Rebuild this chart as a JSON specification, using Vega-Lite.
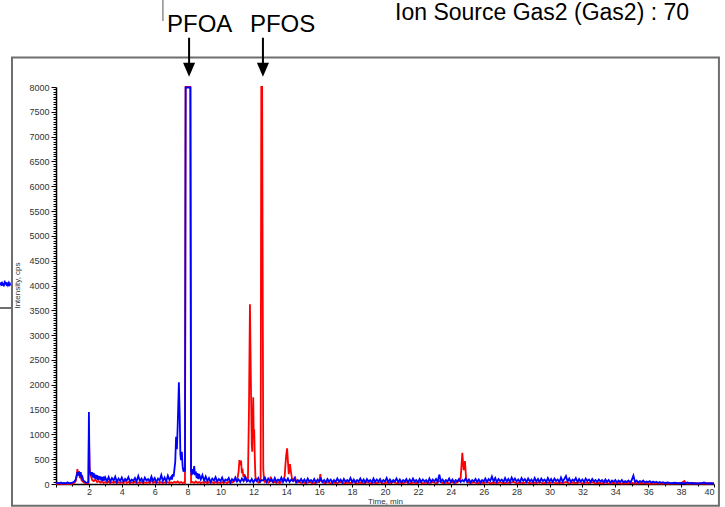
{
  "$schema": "https://vega.github.io/schema/vega-lite/v6.json",
  "width": 658,
  "height": 397,
  "autosize": {"type": "none"},
  "padding": {"left": 56, "top": 87, "right": 11, "bottom": 23},
  "background": "white",
  "data": {"values": [{}]},
  "config": {
    "view": {"stroke": null},
    "font": "Liberation Sans",
    "axis": {
      "domainColor": "#000000",
      "domainWidth": 1.5,
      "tickColor": "#000000",
      "labelColor": "#333333",
      "labelFontSize": 9,
      "labelFont": "Liberation Sans",
      "titleFont": "Liberation Sans",
      "titleFontWeight": "normal",
      "titleColor": "#333333",
      "titleFontSize": 8,
      "grid": false,
      "labelOverlap": false
    }
  },
  "datasets": {
    "pfoa": [
      {"t":0,"i":15},{"t":0.1,"i":25},{"t":0.2,"i":10},{"t":0.3,"i":30},{"t":0.4,"i":15},{"t":0.5,"i":20},{"t":0.6,"i":10},{"t":0.7,"i":35},{"t":0.8,"i":15},{"t":0.9,"i":20},
      {"t":1.0,"i":30},{"t":1.1,"i":45},{"t":1.2,"i":90},{"t":1.25,"i":160},{"t":1.3,"i":240},{"t":1.35,"i":170},{"t":1.4,"i":250},{"t":1.45,"i":190},{"t":1.5,"i":240},{"t":1.55,"i":130},
      {"t":1.6,"i":150},{"t":1.65,"i":80},{"t":1.7,"i":60},{"t":1.8,"i":35},{"t":1.9,"i":25},{"t":1.97,"i":40},{"t":2.0,"i":1450},{"t":2.04,"i":250},{"t":2.1,"i":230},{"t":2.15,"i":170},
      {"t":2.2,"i":240},{"t":2.25,"i":130},{"t":2.3,"i":220},{"t":2.35,"i":110},{"t":2.4,"i":190},{"t":2.45,"i":100},{"t":2.5,"i":180},{"t":2.55,"i":80},{"t":2.6,"i":160},{"t":2.65,"i":90},
      {"t":2.7,"i":150},{"t":2.75,"i":70},{"t":2.8,"i":140},{"t":2.85,"i":60},{"t":2.9,"i":150},{"t":2.95,"i":70},{"t":3.0,"i":130},
      {"t":3.1,"i":60},{"t":3.2,"i":140},{"t":3.3,"i":50},{"t":3.4,"i":120},{"t":3.5,"i":70},{"t":3.6,"i":150},{"t":3.7,"i":40},{"t":3.8,"i":110},{"t":3.9,"i":60},
      {"t":4.0,"i":130},{"t":4.1,"i":50},{"t":4.2,"i":100},{"t":4.3,"i":70},{"t":4.4,"i":140},{"t":4.5,"i":45},{"t":4.6,"i":90},{"t":4.7,"i":60},{"t":4.8,"i":120},{"t":4.9,"i":50},
      {"t":5.0,"i":160},{"t":5.1,"i":60},{"t":5.2,"i":110},{"t":5.3,"i":40},{"t":5.4,"i":130},{"t":5.5,"i":70},{"t":5.6,"i":100},{"t":5.7,"i":50},{"t":5.8,"i":150},{"t":5.9,"i":60},
      {"t":6.0,"i":120},{"t":6.1,"i":40},{"t":6.2,"i":110},{"t":6.3,"i":70},{"t":6.4,"i":180},{"t":6.5,"i":60},{"t":6.6,"i":130},{"t":6.7,"i":50},{"t":6.8,"i":170},{"t":6.9,"i":80},
      {"t":7.0,"i":140},{"t":7.05,"i":90},{"t":7.1,"i":200},{"t":7.15,"i":150},{"t":7.2,"i":300},{"t":7.25,"i":450},{"t":7.3,"i":950},{"t":7.35,"i":700},{"t":7.4,"i":1200},{"t":7.47,"i":2050},
      {"t":7.52,"i":1400},{"t":7.56,"i":600},{"t":7.6,"i":480},{"t":7.65,"i":650},{"t":7.7,"i":350},{"t":7.75,"i":250},{"t":7.8,"i":300},{"t":7.84,"i":250},{"t":7.88,"i":7990},{"t":8.17,"i":7990},
      {"t":8.21,"i":250},{"t":8.25,"i":180},{"t":8.3,"i":300},{"t":8.35,"i":200},{"t":8.4,"i":360},{"t":8.45,"i":180},{"t":8.5,"i":250},{"t":8.55,"i":120},{"t":8.6,"i":220},{"t":8.65,"i":100},
      {"t":8.7,"i":200},{"t":8.8,"i":90},{"t":8.9,"i":180},
      {"t":9.0,"i":70},{"t":9.1,"i":150},{"t":9.2,"i":60},{"t":9.3,"i":120},{"t":9.4,"i":40},{"t":9.5,"i":110},{"t":9.6,"i":70},{"t":9.7,"i":140},{"t":9.8,"i":50},{"t":9.9,"i":100},
      {"t":10.0,"i":60},{"t":10.1,"i":130},{"t":10.2,"i":40},{"t":10.3,"i":90},{"t":10.4,"i":70},{"t":10.5,"i":120},{"t":10.6,"i":30},{"t":10.7,"i":100},{"t":10.8,"i":60},{"t":10.9,"i":130},
      {"t":11.0,"i":50},{"t":11.1,"i":90},{"t":11.2,"i":40},{"t":11.3,"i":110},{"t":11.4,"i":60},{"t":11.5,"i":140},{"t":11.6,"i":50},{"t":11.7,"i":80},{"t":11.8,"i":40},{"t":11.9,"i":100},
      {"t":12.0,"i":30},{"t":12.1,"i":90},{"t":12.2,"i":60},{"t":12.3,"i":120},{"t":12.4,"i":40},{"t":12.5,"i":80},{"t":12.6,"i":70},{"t":12.7,"i":130},{"t":12.8,"i":40},{"t":12.9,"i":110},
      {"t":13.0,"i":60},{"t":13.1,"i":100},{"t":13.2,"i":40},{"t":13.3,"i":120},{"t":13.4,"i":50},{"t":13.5,"i":90},{"t":13.6,"i":60},{"t":13.7,"i":130},{"t":13.8,"i":40},{"t":13.9,"i":100},
      {"t":14.0,"i":50},{"t":14.1,"i":110},{"t":14.2,"i":40},{"t":14.3,"i":90},{"t":14.4,"i":60},{"t":14.5,"i":120},{"t":14.6,"i":30},{"t":14.7,"i":80},{"t":14.8,"i":50},{"t":14.9,"i":100},
      {"t":15.0,"i":40},{"t":15.1,"i":90},{"t":15.2,"i":30},{"t":15.3,"i":110},{"t":15.4,"i":50},{"t":15.5,"i":80},{"t":15.6,"i":40},{"t":15.7,"i":100},{"t":15.8,"i":30},{"t":15.9,"i":90},
      {"t":16.0,"i":50},{"t":16.1,"i":110},{"t":16.2,"i":40},{"t":16.3,"i":80},{"t":16.4,"i":30},{"t":16.5,"i":100},{"t":16.6,"i":50},{"t":16.7,"i":90},{"t":16.8,"i":30},{"t":16.9,"i":80},
      {"t":17.0,"i":40},{"t":17.1,"i":110},{"t":17.2,"i":50},{"t":17.3,"i":90},{"t":17.4,"i":30},{"t":17.5,"i":100},{"t":17.6,"i":40},{"t":17.7,"i":80},{"t":17.8,"i":50},{"t":17.9,"i":120},
      {"t":18.0,"i":40},{"t":18.1,"i":90},{"t":18.2,"i":30},{"t":18.3,"i":80},{"t":18.4,"i":50},{"t":18.5,"i":110},{"t":18.6,"i":40},{"t":18.7,"i":90},{"t":18.8,"i":30},{"t":18.9,"i":100},
      {"t":19.0,"i":50},{"t":19.1,"i":80},{"t":19.2,"i":30},{"t":19.3,"i":110},{"t":19.4,"i":40},{"t":19.5,"i":90},{"t":19.6,"i":50},{"t":19.7,"i":100},{"t":19.8,"i":30},{"t":19.9,"i":80},
      {"t":20.0,"i":50},{"t":20.1,"i":120},{"t":20.2,"i":40},{"t":20.3,"i":90},{"t":20.4,"i":30},{"t":20.5,"i":80},{"t":20.6,"i":50},{"t":20.7,"i":110},{"t":20.8,"i":40},{"t":20.9,"i":90},
      {"t":21.0,"i":30},{"t":21.1,"i":80},{"t":21.2,"i":50},{"t":21.3,"i":100},{"t":21.4,"i":30},{"t":21.5,"i":90},{"t":21.6,"i":40},{"t":21.7,"i":110},{"t":21.8,"i":50},{"t":21.9,"i":80},
      {"t":22.0,"i":30},{"t":22.1,"i":100},{"t":22.2,"i":40},{"t":22.3,"i":90},{"t":22.4,"i":50},{"t":22.5,"i":80},{"t":22.6,"i":30},{"t":22.7,"i":110},{"t":22.8,"i":40},{"t":22.9,"i":90},
      {"t":23.0,"i":50},{"t":23.1,"i":100},{"t":23.2,"i":40},{"t":23.3,"i":190},{"t":23.4,"i":50},{"t":23.5,"i":90},{"t":23.6,"i":30},{"t":23.7,"i":80},{"t":23.8,"i":50},{"t":23.9,"i":110},
      {"t":24.0,"i":40},{"t":24.1,"i":90},{"t":24.2,"i":30},{"t":24.3,"i":80},{"t":24.4,"i":50},{"t":24.5,"i":100},{"t":24.6,"i":40},{"t":24.7,"i":80},{"t":24.8,"i":50},{"t":24.9,"i":110},
      {"t":25.0,"i":40},{"t":25.1,"i":90},{"t":25.2,"i":30},{"t":25.3,"i":80},{"t":25.4,"i":50},{"t":25.5,"i":100},{"t":25.6,"i":40},{"t":25.7,"i":90},{"t":25.8,"i":30},{"t":25.9,"i":80},
      {"t":26.0,"i":50},{"t":26.1,"i":110},{"t":26.2,"i":40},{"t":26.3,"i":100},{"t":26.4,"i":60},{"t":26.5,"i":150},{"t":26.6,"i":50},{"t":26.7,"i":120},{"t":26.8,"i":40},{"t":26.9,"i":100},
      {"t":27.0,"i":60},{"t":27.1,"i":90},{"t":27.2,"i":40},{"t":27.3,"i":120},{"t":27.4,"i":50},{"t":27.5,"i":100},{"t":27.6,"i":40},{"t":27.7,"i":130},{"t":27.8,"i":60},{"t":27.9,"i":110},
      {"t":28.0,"i":50},{"t":28.1,"i":90},{"t":28.2,"i":40},{"t":28.3,"i":120},{"t":28.4,"i":60},{"t":28.5,"i":100},{"t":28.6,"i":40},{"t":28.7,"i":110},{"t":28.8,"i":50},{"t":28.9,"i":90},
      {"t":29.0,"i":40},{"t":29.1,"i":120},{"t":29.2,"i":50},{"t":29.3,"i":100},{"t":29.4,"i":40},{"t":29.5,"i":110},{"t":29.6,"i":60},{"t":29.7,"i":90},{"t":29.8,"i":40},{"t":29.9,"i":120},
      {"t":30.0,"i":50},{"t":30.1,"i":100},{"t":30.2,"i":40},{"t":30.3,"i":110},{"t":30.4,"i":60},{"t":30.5,"i":90},{"t":30.6,"i":40},{"t":30.7,"i":130},{"t":30.8,"i":50},{"t":30.9,"i":100},
      {"t":31.0,"i":160},{"t":31.1,"i":50},{"t":31.2,"i":110},{"t":31.3,"i":40},{"t":31.4,"i":90},{"t":31.5,"i":60},{"t":31.6,"i":120},{"t":31.7,"i":40},{"t":31.8,"i":100},{"t":31.9,"i":50},
      {"t":32.0,"i":90},{"t":32.1,"i":40},{"t":32.2,"i":110},{"t":32.3,"i":60},{"t":32.4,"i":90},{"t":32.5,"i":40},{"t":32.6,"i":100},{"t":32.7,"i":50},{"t":32.8,"i":80},{"t":32.9,"i":40},
      {"t":33.0,"i":90},{"t":33.1,"i":50},{"t":33.2,"i":80},{"t":33.3,"i":30},{"t":33.4,"i":90},{"t":33.5,"i":40},{"t":33.6,"i":80},{"t":33.7,"i":30},{"t":33.8,"i":70},{"t":33.9,"i":40},
      {"t":34.0,"i":80},{"t":34.1,"i":30},{"t":34.2,"i":70},{"t":34.3,"i":40},{"t":34.4,"i":80},{"t":34.5,"i":30},{"t":34.6,"i":60},{"t":34.7,"i":40},{"t":34.8,"i":70},{"t":34.9,"i":30},
      {"t":35.0,"i":80},{"t":35.1,"i":170},{"t":35.2,"i":40},{"t":35.3,"i":70},{"t":35.4,"i":30},{"t":35.5,"i":60},{"t":35.6,"i":40},{"t":35.7,"i":70},{"t":35.8,"i":30},{"t":35.9,"i":50},
      {"t":36.0,"i":40},{"t":36.1,"i":60},{"t":36.2,"i":25},{"t":36.3,"i":50},{"t":36.4,"i":30},{"t":36.5,"i":45},{"t":36.6,"i":20},{"t":36.7,"i":40},{"t":36.8,"i":25},{"t":36.9,"i":35},
      {"t":37.0,"i":20},{"t":37.2,"i":30},{"t":37.4,"i":15},{"t":37.6,"i":25},{"t":37.8,"i":15},{"t":38.0,"i":20},{"t":38.2,"i":15},{"t":38.4,"i":30},{"t":38.5,"i":15},{"t":38.6,"i":20},
      {"t":38.8,"i":15},{"t":39.0,"i":10},{"t":39.2,"i":15},{"t":39.4,"i":30},{"t":39.5,"i":15},{"t":39.6,"i":10},{"t":39.8,"i":15},{"t":40.0,"i":10}
    ],
    "pfos": [
      {"t":0,"i":5},{"t":0.2,"i":10},{"t":0.4,"i":5},{"t":0.6,"i":10},{"t":0.8,"i":5},{"t":1.0,"i":10},{"t":1.1,"i":20},{"t":1.2,"i":60},{"t":1.25,"i":150},{"t":1.3,"i":300},
      {"t":1.35,"i":200},{"t":1.4,"i":250},{"t":1.45,"i":120},{"t":1.5,"i":180},{"t":1.55,"i":80},{"t":1.6,"i":60},{"t":1.7,"i":30},{"t":1.8,"i":20},{"t":1.9,"i":15},{"t":1.97,"i":20},
      {"t":2.0,"i":1000},{"t":2.04,"i":350},{"t":2.08,"i":200},{"t":2.15,"i":130},{"t":2.2,"i":80},{"t":2.3,"i":60},{"t":2.4,"i":90},{"t":2.5,"i":40},{"t":2.6,"i":60},{"t":2.7,"i":30},
      {"t":2.8,"i":50},{"t":2.9,"i":20},{"t":3.0,"i":40},{"t":3.1,"i":20},{"t":3.2,"i":50},{"t":3.3,"i":15},{"t":3.4,"i":40},{"t":3.5,"i":20},{"t":3.6,"i":45},{"t":3.7,"i":15},
      {"t":3.8,"i":35},{"t":3.9,"i":20},{"t":4.0,"i":40},{"t":4.1,"i":15},{"t":4.2,"i":90},{"t":4.3,"i":20},{"t":4.4,"i":40},{"t":4.5,"i":15},{"t":4.6,"i":35},{"t":4.7,"i":20},
      {"t":4.8,"i":45},{"t":4.9,"i":15},{"t":5.0,"i":30},{"t":5.1,"i":20},{"t":5.2,"i":40},{"t":5.3,"i":15},{"t":5.4,"i":35},{"t":5.5,"i":20},{"t":5.6,"i":40},{"t":5.7,"i":15},
      {"t":5.8,"i":90},{"t":5.9,"i":20},{"t":6.0,"i":40},{"t":6.1,"i":15},{"t":6.2,"i":35},{"t":6.3,"i":20},{"t":6.4,"i":40},{"t":6.5,"i":15},{"t":6.6,"i":30},{"t":6.7,"i":20},
      {"t":6.8,"i":40},{"t":6.9,"i":15},{"t":7.0,"i":35},{"t":7.1,"i":20},{"t":7.2,"i":45},{"t":7.3,"i":25},{"t":7.4,"i":50},{"t":7.5,"i":20},{"t":7.6,"i":40},{"t":7.7,"i":20},
      {"t":7.8,"i":35},{"t":7.84,"i":20},{"t":7.88,"i":8000},{"t":8.17,"i":8000},{"t":8.21,"i":30},{"t":8.3,"i":40},{"t":8.4,"i":20},{"t":8.5,"i":50},{"t":8.6,"i":20},{"t":8.7,"i":40},
      {"t":8.8,"i":15},{"t":8.9,"i":35},{"t":9.0,"i":20},{"t":9.1,"i":45},{"t":9.2,"i":15},{"t":9.3,"i":40},{"t":9.4,"i":20},{"t":9.5,"i":35},{"t":9.6,"i":15},{"t":9.7,"i":45},
      {"t":9.8,"i":20},{"t":9.9,"i":30},{"t":10.0,"i":15},{"t":10.1,"i":40},{"t":10.2,"i":20},{"t":10.3,"i":35},{"t":10.4,"i":15},{"t":10.5,"i":45},{"t":10.6,"i":20},{"t":10.7,"i":30},
      {"t":10.8,"i":50},{"t":10.9,"i":80},{"t":11.0,"i":60},{"t":11.05,"i":150},{"t":11.1,"i":250},{"t":11.15,"i":480},{"t":11.2,"i":380},{"t":11.25,"i":470},{"t":11.3,"i":220},{"t":11.35,"i":260},
      {"t":11.4,"i":140},{"t":11.45,"i":200},{"t":11.5,"i":90},{"t":11.55,"i":120},{"t":11.6,"i":70},{"t":11.67,"i":120},{"t":11.73,"i":1500},{"t":11.79,"i":3620},{"t":11.85,"i":2000},{"t":11.9,"i":800},
      {"t":11.93,"i":650},{"t":11.96,"i":1100},{"t":11.99,"i":1750},{"t":12.02,"i":950},{"t":12.05,"i":1100},{"t":12.08,"i":600},{"t":12.12,"i":150},{"t":12.2,"i":60},{"t":12.3,"i":30},{"t":12.4,"i":40},
      {"t":12.44,"i":120},{"t":12.48,"i":8000},{"t":12.53,"i":8000},{"t":12.6,"i":300},{"t":12.65,"i":80},{"t":12.7,"i":40},{"t":12.8,"i":60},{"t":12.9,"i":25},{"t":13.0,"i":50},{"t":13.05,"i":150},
      {"t":13.1,"i":60},{"t":13.2,"i":30},{"t":13.3,"i":45},{"t":13.4,"i":20},{"t":13.5,"i":40},{"t":13.6,"i":15},{"t":13.7,"i":50},{"t":13.8,"i":80},{"t":13.9,"i":150},{"t":13.95,"i":400},
      {"t":14.0,"i":600},{"t":14.05,"i":720},{"t":14.1,"i":450},{"t":14.15,"i":200},{"t":14.22,"i":400},{"t":14.28,"i":250},{"t":14.35,"i":100},{"t":14.45,"i":60},{"t":14.55,"i":120},{"t":14.6,"i":50},
      {"t":14.7,"i":30},{"t":14.8,"i":45},{"t":14.9,"i":20},{"t":15.0,"i":35},{"t":15.2,"i":20},{"t":15.4,"i":40},{"t":15.6,"i":15},{"t":15.8,"i":30},{"t":16.0,"i":40},{"t":16.07,"i":200},
      {"t":16.12,"i":60},{"t":16.3,"i":20},{"t":16.5,"i":35},{"t":16.7,"i":15},{"t":16.9,"i":30},{"t":17.1,"i":20},{"t":17.3,"i":40},{"t":17.5,"i":15},{"t":17.7,"i":30},{"t":17.9,"i":20},
      {"t":18.1,"i":35},{"t":18.3,"i":15},{"t":18.5,"i":30},{"t":18.7,"i":20},{"t":18.9,"i":35},{"t":19.1,"i":15},{"t":19.3,"i":30},{"t":19.5,"i":20},{"t":19.7,"i":35},{"t":19.9,"i":15},
      {"t":20.1,"i":30},{"t":20.3,"i":20},{"t":20.5,"i":40},{"t":20.7,"i":15},{"t":20.9,"i":30},{"t":21.1,"i":20},{"t":21.3,"i":35},{"t":21.5,"i":15},{"t":21.7,"i":30},{"t":21.9,"i":20},
      {"t":22.1,"i":35},{"t":22.3,"i":15},{"t":22.5,"i":30},{"t":22.7,"i":20},{"t":22.9,"i":40},{"t":23.1,"i":15},{"t":23.3,"i":60},{"t":23.5,"i":20},{"t":23.7,"i":30},{"t":23.9,"i":15},
      {"t":24.1,"i":35},{"t":24.3,"i":20},{"t":24.5,"i":60},{"t":24.6,"i":120},{"t":24.7,"i":630},{"t":24.78,"i":280},{"t":24.86,"i":460},{"t":24.93,"i":120},{"t":25.0,"i":40},{"t":25.2,"i":20},
      {"t":25.4,"i":35},{"t":25.6,"i":15},{"t":25.8,"i":30},{"t":26.0,"i":20},{"t":26.2,"i":40},{"t":26.4,"i":15},{"t":26.6,"i":30},{"t":26.8,"i":20},{"t":27.0,"i":35},{"t":27.2,"i":15},
      {"t":27.4,"i":30},{"t":27.6,"i":20},{"t":27.8,"i":45},{"t":28.0,"i":15},{"t":28.2,"i":30},{"t":28.4,"i":20},{"t":28.6,"i":35},{"t":28.8,"i":15},{"t":29.0,"i":30},{"t":29.2,"i":20},
      {"t":29.4,"i":40},{"t":29.6,"i":15},{"t":29.8,"i":30},{"t":30.0,"i":20},{"t":30.2,"i":35},{"t":30.4,"i":15},{"t":30.6,"i":30},{"t":30.8,"i":20},{"t":31.0,"i":40},{"t":31.2,"i":15},
      {"t":31.4,"i":30},{"t":31.6,"i":20},{"t":31.8,"i":35},{"t":32.0,"i":15},{"t":32.2,"i":30},{"t":32.4,"i":20},{"t":32.6,"i":35},{"t":32.8,"i":15},{"t":33.0,"i":25},{"t":33.2,"i":15},
      {"t":33.4,"i":30},{"t":33.6,"i":10},{"t":33.8,"i":25},{"t":34.0,"i":15},{"t":34.2,"i":25},{"t":34.4,"i":10},{"t":34.6,"i":20},{"t":34.8,"i":15},{"t":35.0,"i":25},{"t":35.2,"i":10},
      {"t":35.4,"i":20},{"t":35.6,"i":15},{"t":35.8,"i":20},{"t":36.0,"i":10},{"t":36.4,"i":15},{"t":36.8,"i":10},{"t":37.2,"i":15},{"t":37.6,"i":10},{"t":38.0,"i":15},{"t":38.2,"i":60},
      {"t":38.3,"i":10},{"t":38.7,"i":15},{"t":39.1,"i":10},{"t":39.5,"i":15},{"t":40.0,"i":10}
    ],
    "neighbour": [
      {"t":-3.4,"i":4010},{"t":-3.36,"i":4060},{"t":-3.32,"i":3990},{"t":-3.28,"i":4080},{"t":-3.24,"i":4000},{"t":-3.2,"i":4050},{"t":-3.16,"i":3980},{"t":-3.12,"i":4100},
      {"t":-3.08,"i":4020},{"t":-3.04,"i":4070},{"t":-3.0,"i":3990},{"t":-2.96,"i":4060},{"t":-2.92,"i":4010},{"t":-2.88,"i":4050},{"t":-2.84,"i":3990},{"t":-2.8,"i":4040},{"t":-2.76,"i":4000}
    ]
  },
  "layer": [
    {
      "mark": {"type": "rect", "filled": false, "stroke": "#6e6e6e", "strokeWidth": 2},
      "encoding": {
        "x": {"datum": -2.675, "type": "quantitative"},
        "x2": {"datum": 40.3},
        "y": {"datum": 8594, "type": "quantitative"},
        "y2": {"datum": -440}
      }
    },
    {
      "mark": {"type": "rule", "stroke": "#6e6e6e", "strokeWidth": 2},
      "encoding": {
        "x": {"datum": -3.42, "type": "quantitative"},
        "x2": {"datum": -2.675},
        "y": {"datum": 3547, "type": "quantitative"}
      }
    },
    {
      "mark": {"type": "rule", "stroke": "#555555", "strokeWidth": 1},
      "encoding": {
        "x": {"datum": 6.5, "type": "quantitative"},
        "y": {"datum": 9753, "type": "quantitative"},
        "y2": {"datum": 9330}
      }
    },
    {
      "data": {"name": "neighbour"},
      "mark": {"type": "line", "stroke": "#0000ff", "strokeWidth": 1.5},
      "encoding": {
        "x": {"field": "t", "type": "quantitative"},
        "y": {"field": "i", "type": "quantitative"}
      }
    },
    {
      "data": {"name": "pfos"},
      "mark": {"type": "line", "stroke": "#ff0000", "strokeWidth": 1.8},
      "encoding": {
        "x": {
          "field": "t",
          "type": "quantitative",
          "title": "Time, min",
          "scale": {"domain": [0, 40], "nice": false, "zero": false},
          "axis": {
            "tickCount": 40,
            "labelExpr": "datum.value > 0 && datum.value % 2 === 0 ? format(datum.value, 'd') : ''",
            "tickSize": {"condition": {"test": "datum.value % 2 === 0", "value": 3}, "value": 2},
            "labelPadding": 0,
            "titleX": 329,
            "titleY": 19.5,
            "titleAlign": "center",
            "titleBaseline": "alphabetic"
          }
        },
        "y": {
          "field": "i",
          "type": "quantitative",
          "title": "Intensity, cps",
          "scale": {"domain": [0, 8000], "nice": false, "zero": false},
          "axis": {
            "tickCount": 160,
            "labelExpr": "datum.value % 500 === 0 ? format(datum.value, 'd') : ''",
            "tickSize": {"condition": {"test": "datum.value % 500 === 0", "value": 5}, "value": 3},
            "labelPadding": 2,
            "titleX": -39,
            "titleY": 198,
            "titleAngle": -90,
            "titleAlign": "center",
            "titleBaseline": "middle"
          }
        }
      }
    },
    {
      "data": {"name": "pfoa"},
      "mark": {"type": "line", "stroke": "#0000ff", "strokeWidth": 1.8},
      "encoding": {
        "x": {"field": "t", "type": "quantitative"},
        "y": {"field": "i", "type": "quantitative"}
      }
    },
    {
      "mark": {"type": "rule", "stroke": "#000000", "strokeWidth": 2},
      "encoding": {
        "x": {"datum": 8.09, "type": "quantitative"},
        "y": {"datum": 8992, "type": "quantitative"},
        "y2": {"datum": 8400}
      }
    },
    {
      "mark": {"type": "point", "shape": "M-0.86,-1L0.86,-1L0,1Z", "size": 196, "filled": true, "color": "#000000", "opacity": 1},
      "encoding": {
        "x": {"datum": 8.09, "type": "quantitative"},
        "y": {"datum": 8348, "type": "quantitative"}
      }
    },
    {
      "mark": {"type": "rule", "stroke": "#000000", "strokeWidth": 2},
      "encoding": {
        "x": {"datum": 12.58, "type": "quantitative"},
        "y": {"datum": 8992, "type": "quantitative"},
        "y2": {"datum": 8400}
      }
    },
    {
      "mark": {"type": "point", "shape": "M-0.86,-1L0.86,-1L0,1Z", "size": 196, "filled": true, "color": "#000000", "opacity": 1},
      "encoding": {
        "x": {"datum": 12.58, "type": "quantitative"},
        "y": {"datum": 8348, "type": "quantitative"}
      }
    },
    {
      "mark": {"type": "text", "text": "PFOA", "font": "Liberation Sans", "fontSize": 24, "align": "left", "baseline": "alphabetic", "color": "#000000"},
      "encoding": {
        "x": {"datum": 6.75, "type": "quantitative"},
        "y": {"datum": 9108, "type": "quantitative"}
      }
    },
    {
      "mark": {"type": "text", "text": "PFOS", "font": "Liberation Sans", "fontSize": 24, "align": "left", "baseline": "alphabetic", "color": "#000000"},
      "encoding": {
        "x": {"datum": 11.79, "type": "quantitative"},
        "y": {"datum": 9108, "type": "quantitative"}
      }
    },
    {
      "mark": {"type": "text", "text": "Ion Source Gas2 (Gas2) : 70", "font": "Liberation Sans", "fontSize": 23, "align": "left", "baseline": "alphabetic", "color": "#000000"},
      "encoding": {
        "x": {"datum": 20.61, "type": "quantitative"},
        "y": {"datum": 9350, "type": "quantitative"}
      }
    }
  ]
}
